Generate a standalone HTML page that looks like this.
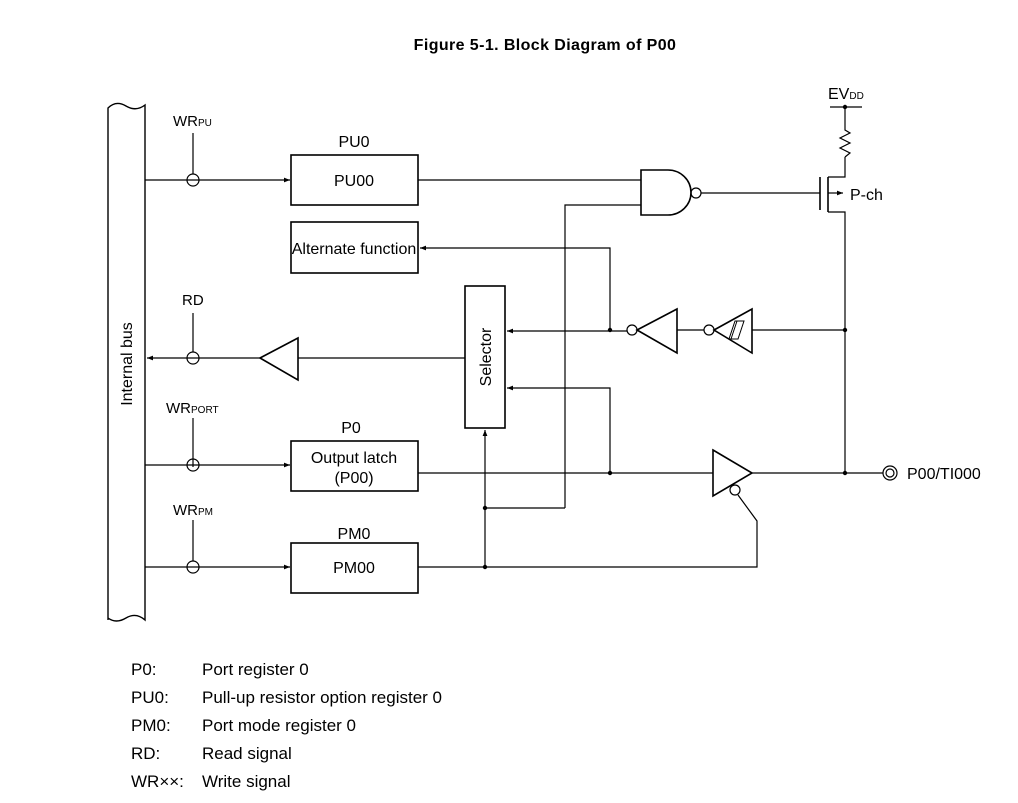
<!DOCTYPE html>
<html><head><meta charset="utf-8"><style>
html,body{margin:0;padding:0;background:#fff;}
svg{display:block;font-family:"Liberation Sans",Arial,sans-serif;}
</style></head><body>
<svg width="1018" height="803" viewBox="0 0 1018 803" xmlns="http://www.w3.org/2000/svg">
<defs>
<marker id="a" viewBox="0 0 10 10" refX="10" refY="5" markerWidth="10" markerHeight="6" markerUnits="userSpaceOnUse" orient="auto"><path d="M0,1 L10,5 L0,9z" fill="#000"/></marker>
</defs>
<text x="545" y="50" text-anchor="middle" font-size="16" font-weight="bold" letter-spacing="0.4">Figure 5-1.  Block Diagram of P00</text>

<g fill="none" stroke="#000" stroke-width="1.2">
<path d="M108,620 L108,108 Q116,100 126,106 Q136,112 145,105 L145,620 Q136,612 126,618 Q116,624 108,618" stroke-width="1.4"/>
<line x1="193" y1="133" x2="193" y2="174"/>
<circle cx="193" cy="180" r="6"/>
<line x1="145" y1="180" x2="290" y2="180" marker-end="url(#a)"/>
<line x1="193" y1="313" x2="193" y2="352"/>
<circle cx="193" cy="358" r="6"/>
<line x1="260" y1="358" x2="147" y2="358" marker-end="url(#a)"/>
<polygon points="260,358 298,338 298,380" stroke-width="1.6"/>
<line x1="298" y1="358" x2="465" y2="358"/>
<line x1="193" y1="418" x2="193" y2="467"/>
<circle cx="193" cy="465" r="6"/>
<line x1="145" y1="465" x2="290" y2="465" marker-end="url(#a)"/>
<line x1="193" y1="520" x2="193" y2="561"/>
<circle cx="193" cy="567" r="6"/>
<line x1="145" y1="567" x2="290" y2="567" marker-end="url(#a)"/>

<rect x="291" y="155" width="127" height="50" stroke-width="1.6"/>
<rect x="291" y="222" width="127" height="51" stroke-width="1.6"/>
<rect x="291" y="441" width="127" height="50" stroke-width="1.6"/>
<rect x="291" y="543" width="127" height="50" stroke-width="1.6"/>
<rect x="465" y="286" width="40" height="142" stroke-width="1.6"/>

<path d="M641,170 L668,170 A23,22.5 0 0 1 668,215 L641,215 Z" stroke-width="1.6"/>
<circle cx="696" cy="193" r="5"/>
<line x1="418" y1="180" x2="641" y2="180"/>
<polyline points="565,508 565,205 641,205"/>
<line x1="701" y1="193" x2="820" y2="193"/>
<line x1="820" y1="177" x2="820" y2="210" stroke-width="1.6"/>
<line x1="828" y1="177" x2="828" y2="212" stroke-width="1.6"/>
<polyline points="828,177 845,177 845,157"/>
<polyline points="828,212 845,212 845,473"/>
<line x1="828" y1="193" x2="843" y2="193" marker-end="url(#a)"/>
<polyline points="845,107 845,130 850,133 840,138 850,143 840,148 850,153 845,157"/>
<line x1="830" y1="107" x2="862" y2="107"/>

<polyline points="610,330 610,248 420,248" marker-end="url(#a)"/>
<line x1="627" y1="331" x2="507" y2="331" marker-end="url(#a)"/>
<circle cx="632" cy="330" r="5"/>
<polygon points="637,330 677,309 677,353" stroke-width="1.6"/>
<line x1="677" y1="330" x2="704" y2="330"/>
<circle cx="709" cy="330" r="5"/>
<polygon points="714,330 752,309 752,353" stroke-width="1.6"/>
<path d="M735,321 L744,321 L738,339 L729,339 Z M737,321 L731,339" stroke-width="1"/>
<line x1="752" y1="330" x2="845" y2="330"/>
<polyline points="610,473 610,388 507,388" marker-end="url(#a)"/>
<line x1="485" y1="567" x2="485" y2="430" marker-end="url(#a)"/>
<line x1="485" y1="508" x2="565" y2="508"/>
<line x1="418" y1="473" x2="713" y2="473"/>
<polygon points="713,450 752,473 713,496" stroke-width="1.6"/>
<circle cx="735" cy="490" r="5"/>
<polyline points="738,495 757,521 757,567 418,567"/>
<line x1="752" y1="473" x2="883" y2="473"/>
<circle cx="890" cy="473" r="7"/>
<circle cx="890" cy="473" r="4"/>
</g>
<g fill="#000">
<circle cx="845" cy="107" r="2.2"/>
<circle cx="610" cy="330" r="2.2"/>
<circle cx="845" cy="330" r="2.2"/>
<circle cx="845" cy="473" r="2.2"/>
<circle cx="610" cy="473" r="2.2"/>
<circle cx="485" cy="508" r="2.2"/>
<circle cx="485" cy="567" r="2.2"/>
</g>

<g font-size="16" fill="#000">
<text x="173" y="126" font-size="15">WR<tspan font-size="10">PU</tspan></text>
<text x="182" y="305" font-size="15">RD</text>
<text x="166" y="413" font-size="15">WR<tspan font-size="10">PORT</tspan></text>
<text x="173" y="515" font-size="15">WR<tspan font-size="10">PM</tspan></text>
<text x="354" y="147" text-anchor="middle">PU0</text>
<text x="354" y="186" text-anchor="middle">PU00</text>
<text x="354" y="254" text-anchor="middle">Alternate function</text>
<text x="351" y="433" text-anchor="middle">P0</text>
<text x="354" y="463" text-anchor="middle">Output latch</text>
<text x="354" y="483" text-anchor="middle">(P00)</text>
<text x="354" y="539" text-anchor="middle">PM0</text>
<text x="354" y="573" text-anchor="middle">PM00</text>
<text x="828" y="99">EV<tspan font-size="10">DD</tspan></text>
<text x="850" y="200">P-ch</text>
<text x="907" y="479">P00/TI000</text>
<text transform="translate(132,364) rotate(-90)" text-anchor="middle">Internal bus</text>
<text transform="translate(491,357) rotate(-90)" text-anchor="middle">Selector</text>
</g>
<g font-size="17" fill="#000">
<text x="131" y="675">P0:</text><text x="202" y="675">Port register 0</text>
<text x="131" y="703">PU0:</text><text x="202" y="703">Pull-up resistor option register 0</text>
<text x="131" y="731">PM0:</text><text x="202" y="731">Port mode register 0</text>
<text x="131" y="759">RD:</text><text x="202" y="759">Read signal</text>
<text x="131" y="787">WR××:</text><text x="202" y="787">Write signal</text>
</g>
</svg>
</body></html>
